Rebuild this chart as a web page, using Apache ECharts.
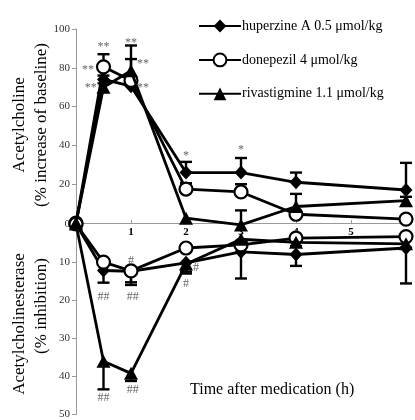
<!DOCTYPE html>
<html><head><meta charset="utf-8">
<script src="https://cdn.jsdelivr.net/npm/echarts@6/dist/echarts.min.js"></script>
<style>html,body{margin:0;padding:0;background:#fff}#c{width:415px;height:420px}</style>
</head><body><div id="c"></div>
<script>
const seriesNames = ['huperzine A 0.5 μmol/kg', 'donepezil 4 μmol/kg', 'rivastigmine 1.1 μmol/kg'];
const times = [0, 0.5, 1, 2, 3, 4, 6];
// Acetylcholine (% increase of baseline)
const achHup = [0, 74, 70.5, 26, 26, 21, 17];
const achDon = [0, 80.5, 73.5, 17.5, 16, 4.5, 2];
const achRiv = [0, 70, 78.5, 2.5, -1, 8.5, 11.5];
const achHupErr = [0, 2, 14, 5.5, 7.5, 5, 14];
const achDonErr = [0, 6.5, 1, 3, 4, 1, 1];
const achRivErr = [0, 2, 13, 0.5, 7.5, 6.5, 2];
// Acetylcholinesterase (% inhibition)
const acheHup = [0, 12.2, 12.4, 10.2, 7.3, 8, 6.3];
const acheDon = [0, 10, 12.3, 6.3, 5.5, 3.7, 3.3];
const acheRiv = [0, 36, 39.2, 10.5, 4, 4.8, 5.2];
const acheHupErr = [0, 3.2, 3.6, 2.8, 7, 3, 9.3];
const acheDonErr = [0, 0.5, 3, 0.5, 0.5, 0.5, 0.5];
const acheRivErr = [0, 7.4, 2, 2, 1, 1, 1];
// significance marks [x, y, text]
const achMarks = [[0.5, 91, '**'], [0.22, 79, '**'], [0.27, 69.5, '**'], [1, 93, '**'], [1.22, 82, '**'], [1.22, 69.5, '**'], [2, 34.5, '*'], [3, 37.5, '*']];
const acheMarks = [[0.5, 19.2, '##'], [1.03, 19.2, '##'], [1, 9.6, '#'], [2.18, 11.4, '#'], [2, 15.8, '#'], [0.5, 45.7, '##'], [1.03, 43.4, '##']];
const xTickLabels = ['1', '2', '3', '4', '5'];

const font = 'Liberation Serif';
const symbols = ['diamond', 'circle', 'triangle'];
const symSizes = [[13, 14], 13, [14, 13]];
const fills = ['#000', '#fff', '#000'];

function lineSeries(i, vals, axis) {
  return {
    name: seriesNames[i], type: 'line', xAxisIndex: axis, yAxisIndex: axis,
    data: times.map((t, k) => [t, vals[k]]),
    symbol: symbols[i], symbolSize: symSizes[i], showAllSymbol: true,
    clip: false, z: 5 + i,
    lineStyle: { color: '#000', width: 2.8 },
    itemStyle: { color: fills[i], borderColor: '#000', borderWidth: i === 1 ? 2.2 : 0 },
    emphasis: { disabled: true }, animation: false
  };
}
function errSeries(vals, errs, axis) {
  return {
    type: 'custom', xAxisIndex: axis, yAxisIndex: axis, z: 3, animation: false, clip: false,
    data: times.map((t, k) => [t, vals[k], vals[k] + errs[k]]),
    renderItem: function (params, api) {
      const a = api.coord([api.value(0), api.value(1)]);
      const b = api.coord([api.value(0), api.value(2)]);
      if (Math.abs(a[1] - b[1]) < 1) return null;
      const st = { stroke: '#000', lineWidth: 2.4 };
      return { type: 'group', children: [
        { type: 'line', shape: { x1: a[0], y1: a[1], x2: b[0], y2: b[1] }, style: st },
        { type: 'line', shape: { x1: b[0] - 6, y1: b[1], x2: b[0] + 6, y2: b[1] }, style: st }
      ] };
    }
  };
}
function markSeries(marks, axis) {
  return {
    type: 'custom', xAxisIndex: axis, yAxisIndex: axis, z: 10, animation: false, clip: false,
    data: marks,
    renderItem: function (params, api) {
      const p = api.coord([api.value(0), api.value(1)]);
      return { type: 'text', x: p[0], y: p[1], style: { text: marks[params.dataIndex][2], fill: '#666', font: '12px "' + font + '"', align: 'center', verticalAlign: 'middle' } };
    }
  };
}

const axisLine = { lineStyle: { color: '#999', width: 1 } };
const chart = echarts.init(document.getElementById('c'));
chart.setOption({
  animation: false,
  grid: [
    { left: 76, top: 29, width: 330, height: 194 },
    { left: 76, top: 224, width: 330, height: 192 }
  ],
  xAxis: [
    { gridIndex: 0, type: 'value', min: 0, max: 6, interval: 1, splitLine: { show: false },
      axisLine: axisLine, axisTick: { inside: true, length: 3, lineStyle: { color: '#999' } },
      axisLabel: { color: '#000', fontFamily: font, fontWeight: 'bold', fontSize: 11, margin: 4,
        formatter: v => xTickLabels.indexOf(String(v)) >= 0 ? String(v) : '' } },
    { gridIndex: 1, type: 'value', min: 0, max: 6, show: false, splitLine: { show: false } }
  ],
  yAxis: [
    { gridIndex: 0, type: 'value', min: 0, max: 100, interval: 20, splitLine: { show: false },
      axisLine: Object.assign({ show: true }, axisLine), axisTick: { show: true, length: 4, lineStyle: { color: '#999' } },
      axisLabel: { color: '#333', fontFamily: font, fontSize: 11, margin: 6, showMinLabel: false } },
    { gridIndex: 1, type: 'value', min: 0, max: 50, interval: 10, inverse: true, splitLine: { show: false },
      axisLine: Object.assign({ show: true }, axisLine), axisTick: { show: true, length: 4, lineStyle: { color: '#999' } },
      axisLabel: { color: '#333', fontFamily: font, fontSize: 11, margin: 6 } }
  ],
  legend: {
    data: seriesNames, orient: 'vertical', left: 193, top: 14, itemWidth: 42, itemHeight: 16, itemGap: 19.5,
    textStyle: { fontFamily: font, fontSize: 14, color: '#000', padding: [0, 0, 0, -4] },
    selectedMode: false
  },
  graphic: [
    { type: 'text', x: 20, y: 125, rotation: Math.PI / 2, style: { text: 'Acetylcholine', font: '17px "' + font + '"', fill: '#000', align: 'center', verticalAlign: 'middle' } },
    { type: 'text', x: 42, y: 125, rotation: Math.PI / 2, style: { text: '(% increase of baseline)', font: '17px "' + font + '"', fill: '#000', align: 'center', verticalAlign: 'middle' } },
    { type: 'text', x: 20, y: 324, rotation: Math.PI / 2, style: { text: 'Acetylcholinesterase', font: '17px "' + font + '"', fill: '#000', align: 'center', verticalAlign: 'middle' } },
    { type: 'text', x: 42, y: 306, rotation: Math.PI / 2, style: { text: '(% inhibition)', font: '17px "' + font + '"', fill: '#000', align: 'center', verticalAlign: 'middle' } },
    { type: 'text', x: 190, y: 390, style: { text: 'Time after medication (h)', font: '16px "' + font + '"', fill: '#000', align: 'left', verticalAlign: 'middle' } }
  ],
  series: [
    errSeries(achHup, achHupErr, 0), errSeries(achDon, achDonErr, 0), errSeries(achRiv, achRivErr, 0),
    errSeries(acheHup, acheHupErr, 1), errSeries(acheDon, acheDonErr, 1), errSeries(acheRiv, acheRivErr, 1),
    lineSeries(0, achHup, 0), lineSeries(1, achDon, 0), lineSeries(2, achRiv, 0),
    lineSeries(0, acheHup, 1), lineSeries(1, acheDon, 1), lineSeries(2, acheRiv, 1),
    markSeries(achMarks, 0), markSeries(acheMarks, 1)
  ]
});
</script></body></html>
